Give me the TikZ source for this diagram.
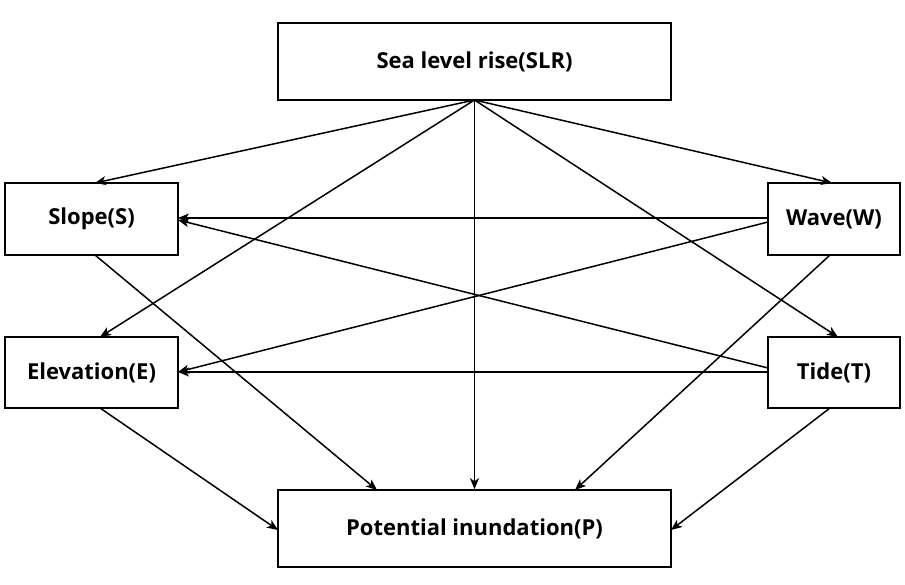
\documentclass[tikz,border=0pt]{standalone}
\usepackage{fontspec}
\setmainfont{Open Sans}
\usetikzlibrary{arrows.meta}
\begin{document}
\begin{tikzpicture}[x=1pt,y=-1pt,
  box/.style={draw,line width=1.6pt,font=\bfseries\fontsize{22}{26}\selectfont,inner sep=0pt},
  arr/.style={-{Stealth[length=11pt,width=9pt,inset=3pt]},line width=1.5pt}]
\useasboundingbox (0,0) rectangle (905,585);
\node[box,minimum width=393pt,minimum height=77pt] (slr) at (474.5,61.5) {Sea level rise(SLR)};
\node[box,minimum width=173pt,minimum height=72pt] (s) at (91.5,219) {Slope(S)};
\node[box,minimum width=132pt,minimum height=72pt] (w) at (834,219) {Wave(W)};
\node[box,minimum width=173pt,minimum height=71pt] (e) at (91.5,372.5) {Elevation(E)};
\node[box,minimum width=132pt,minimum height=71pt] (t) at (834,372.5) {Tide(T)};
\node[box,minimum width=393pt,minimum height=77pt] (p) at (474.5,528.5) {Potential inundation(P)};
\coordinate (o) at (474.5,100);
\draw[arr] (o) -- (95,183);
\draw[arr] (o) -- (832,183);
\draw[arr] (o) -- (100,337);
\draw[arr] (o) -- (838,337);
\draw[arr] (o) -- (p.north);
\draw[arr] (768,218) -- (178,218);
\draw[arr] (768,222) -- (178,372);
\draw[arr] (768,372) -- (178,372);
\draw[arr] (768,368) -- (178,220);
\draw[arr] (95,255) -- (377,490);
\draw[arr] (830,255) -- (575,490);
\draw[arr] (100,408) -- (278,530);
\draw[arr] (830,408) -- (671,530);
\end{tikzpicture}
\end{document}
